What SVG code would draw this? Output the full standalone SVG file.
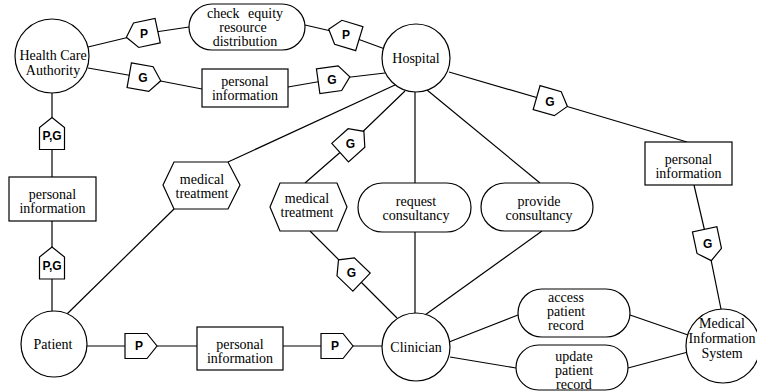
<svg xmlns="http://www.w3.org/2000/svg" xmlns:xlink="http://www.w3.org/1999/xlink" width="757" height="392" viewBox="0 0 757 392">
<style>
.n{fill:#fff;stroke:#000;stroke-width:1.2}
.c{fill:none;stroke:#000;stroke-width:1.2}
.t{font-family:"Liberation Serif","Times New Roman",serif;font-size:14px;text-anchor:middle;fill:#000}
.l{font-family:"Liberation Sans",Arial,sans-serif;font-size:12px;font-weight:bold;text-anchor:middle;fill:#000}
</style>
<defs>
<path id="pent" d="M-16,-12.5 H6 L16,0 L6,12.5 H-16 Z"/>
</defs>
<rect width="757" height="392" fill="#fff"/>
<g id="connectors" class="c">
<polyline points="88,47 142,34 189,27"/>
<polyline points="305,25 344,34 385,49"/>
<polyline points="88,68 145,78 202,89"/>
<polyline points="288,87 334,79 385,73"/>
<polyline points="52,93 52,133.5 52,177"/>
<polyline points="52,221 52,263 52,311"/>
<polyline points="87,346 141,346 197,346"/>
<polyline points="283,346 337,346 382,346"/>
<line x1="67" y1="314" x2="174" y2="209"/>
<line x1="228" y1="162" x2="395" y2="85"/>
<polyline points="405,91 352,142 305,183"/>
<polyline points="310,231 350,271 397,318"/>
<line x1="415" y1="92" x2="415" y2="183"/>
<line x1="415" y1="232" x2="415" y2="313"/>
<line x1="427" y1="90" x2="540" y2="183"/>
<line x1="542" y1="231" x2="425" y2="315"/>
<polyline points="449,72 552,102 687,142"/>
<polyline points="694,185 708,245 721,309"/>
<line x1="449" y1="342" x2="518" y2="315"/>
<line x1="630" y1="315" x2="688" y2="335"/>
<line x1="450" y1="357" x2="516" y2="368"/>
<line x1="628" y1="368" x2="688" y2="352"/>
</g>
<g id="labels">
<g id="lbl-p1"><use xlink:href="#pent" class="n" transform="translate(142,34) rotate(168)"/><text class="l" x="144" y="38">P</text></g>
<g id="lbl-p2"><use xlink:href="#pent" class="n" transform="translate(344,34) rotate(197)"/><text class="l" x="346" y="39">P</text></g>
<g id="lbl-g1"><use xlink:href="#pent" class="n" transform="translate(145,78) rotate(10)"/><text class="l" x="143" y="82">G</text></g>
<g id="lbl-g2"><use xlink:href="#pent" class="n" transform="translate(334,79) rotate(-8)"/><text class="l" x="332" y="84">G</text></g>
<g id="lbl-g3"><use xlink:href="#pent" class="n" transform="translate(552,102) rotate(16)"/><text class="l" x="550" y="106">G</text></g>
<g id="lbl-g4"><use xlink:href="#pent" class="n" transform="translate(708,245) rotate(78)"/><text class="l" x="707.6" y="247.5">G</text></g>
<g id="lbl-g5"><use xlink:href="#pent" class="n" transform="translate(352,142) rotate(-42)"/><text class="l" x="350.5" y="147.5">G</text></g>
<g id="lbl-g6"><use xlink:href="#pent" class="n" transform="translate(350,271) rotate(224)"/><text class="l" x="351.4" y="276.7">G</text></g>
<g id="lbl-pg1"><use xlink:href="#pent" class="n" transform="translate(52,133.5) rotate(-90)"/><text class="l" x="52" y="140">P,G</text></g>
<g id="lbl-pg2"><use xlink:href="#pent" class="n" transform="translate(52,263) rotate(-90)"/><text class="l" x="52" y="269.5">P,G</text></g>
<g id="lbl-p3"><use xlink:href="#pent" class="n" transform="translate(141,346)"/><text class="l" x="139" y="350.3">P</text></g>
<g id="lbl-p4"><use xlink:href="#pent" class="n" transform="translate(337,346)"/><text class="l" x="335" y="350.3">P</text></g>
</g>
<g id="hca"><circle class="n" cx="52" cy="56" r="37"/><text class="t" x="53" y="60">Health Care</text><text class="t" x="53" y="75">Authority</text></g>
<g id="hospital"><circle class="n" cx="416" cy="58" r="34"/><text class="t" x="416" y="63">Hospital</text></g>
<g id="patient"><circle class="n" cx="54" cy="344" r="33"/><text class="t" x="53" y="349">Patient</text></g>
<g id="clinician"><circle class="n" cx="416" cy="347" r="34"/><text class="t" x="416" y="352">Clinician</text></g>
<g id="mis"><circle class="n" cx="723" cy="346" r="37"/><text class="t" x="722" y="328">Medical</text><text class="t" x="722" y="343">Information</text><text class="t" x="722" y="358">System</text></g>
<g id="check-equity"><rect class="n" x="189" y="4" width="116" height="46" rx="23"/><text class="t" x="245" y="18" word-spacing="5">check equity</text><text class="t" x="243" y="32">resource</text><text class="t" x="245" y="46">distribution</text></g>
<g id="pi-top"><rect class="n" x="202" y="69" width="86" height="38"/><text class="t" x="245" y="86">personal</text><text class="t" x="245" y="100">information</text></g>
<g id="pi-left"><rect class="n" x="9" y="177" width="87" height="44"/><text class="t" x="52.5" y="199">personal</text><text class="t" x="52.5" y="213">information</text></g>
<g id="pi-bottom"><rect class="n" x="197" y="327" width="86" height="43"/><text class="t" x="240" y="349">personal</text><text class="t" x="240" y="363">information</text></g>
<g id="pi-right"><rect class="n" x="645" y="142" width="87" height="43"/><text class="t" x="688.5" y="164">personal</text><text class="t" x="688.5" y="178">information</text></g>
<g id="med-treat-1"><polygon class="n" points="163,185 174,162 228,162 240,185 228,209 174,209"/><text class="t" x="202" y="184">medical</text><text class="t" x="202" y="198">treatment</text></g>
<g id="med-treat-2"><polygon class="n" points="270,207 280,183 337,183 347,207 337,231 280,231"/><text class="t" x="307" y="203">medical</text><text class="t" x="307" y="217">treatment</text></g>
<g id="request"><rect class="n" x="358" y="183" width="113" height="49" rx="24.5"/><text class="t" x="416" y="206">request</text><text class="t" x="416" y="220">consultancy</text></g>
<g id="provide"><rect class="n" x="481" y="183" width="112" height="48" rx="24"/><text class="t" x="539" y="206">provide</text><text class="t" x="539" y="220">consultancy</text></g>
<g id="access"><rect class="n" x="518" y="289" width="112" height="48" rx="24"/><text class="t" x="566" y="302">access</text><text class="t" x="566" y="316">patient</text><text class="t" x="566" y="330">record</text></g>
<g id="update"><rect class="n" x="516" y="345" width="112" height="45" rx="22.5"/><text class="t" x="574" y="361">update</text><text class="t" x="574" y="375">patient</text><text class="t" x="574" y="389">record</text></g>
</svg>
